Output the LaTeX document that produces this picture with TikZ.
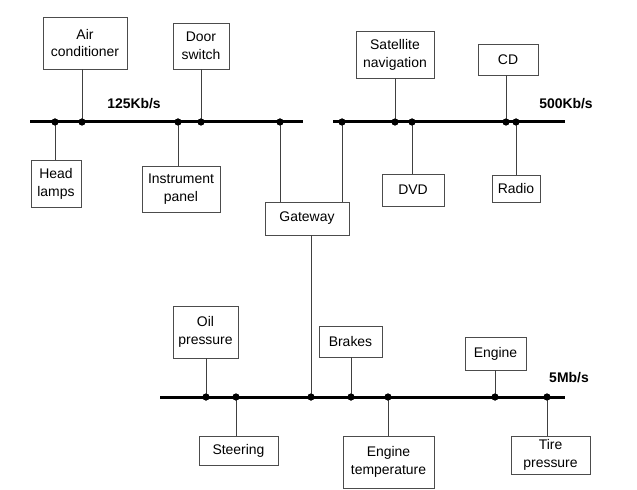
\documentclass[tikz,border=0pt]{standalone}
\usepackage{fontspec}
\setmainfont{Liberation Sans}
\begin{document}
\begin{tikzpicture}[x=1bp,y=-1bp,
  box/.style={draw=black!70, line width=0.8bp, fill=white, inner sep=0pt, align=center,
    font=\fontsize{14}{18}\selectfont},
  bus/.style={line width=3bp, black},
  link/.style={line width=1bp, black!75},
  dot/.style={circle, fill=black, inner sep=0pt, minimum size=7bp},
  rate/.style={font=\bfseries\fontsize{14}{16}\selectfont}]
\useasboundingbox (0,0) rectangle (637,490);
% buses
\coordinate (b1s) at (30,122); \coordinate (b1e) at (303,122);
\coordinate (b2s) at (333,122); \coordinate (b2e) at (565,122);
\coordinate (b3s) at (160,397); \coordinate (b3e) at (565,397);
\draw[bus] (b1s) -- (b1e);
\draw[bus] (b2s) -- (b2e);
\draw[bus] (b3s) -- (b3e);
% labels
\node[rate] (r1) at (134,104) {125Kb/s};
\node[rate] (r2) at (566,104) {500Kb/s};
\node[rate] (r3) at (569,378) {5Mb/s};
% boxes
\node[box, minimum width=84bp, minimum height=52bp] (ac) at (85,43) {Air\\conditioner};
\node[box, minimum width=56bp, minimum height=46bp] (door) at (201,46) {Door\\switch};
\node[box, minimum width=50bp, minimum height=47bp] (head) at (56,183.5) {Head\\lamps};
\node[box, minimum width=78bp, minimum height=46bp] (instr) at (181,189) {Instrument\\panel};
\node[box, minimum width=84bp, minimum height=33bp] (gw) at (307,218.5) {Gateway};
\node[box, minimum width=78bp, minimum height=47bp] (sat) at (395,54.5) {Satellite\\navigation};
\node[box, minimum width=60bp, minimum height=31bp] (cd) at (508,59.5) {CD};
\node[box, minimum width=62bp, minimum height=32bp] (dvd) at (413,190) {DVD};
\node[box, minimum width=48bp, minimum height=27bp] (radio) at (516,188.5) {Radio};
\node[box, minimum width=65bp, minimum height=52bp] (oil) at (205.5,332) {Oil\\pressure};
\node[box, minimum width=63bp, minimum height=31bp] (brakes) at (350.5,341.5) {Brakes};
\node[box, minimum width=61bp, minimum height=33bp] (engine) at (495.5,353.5) {Engine};
\node[box, minimum width=79bp, minimum height=29bp] (steer) at (238.5,450.5) {Steering};
\node[box, minimum width=91bp, minimum height=52bp] (etemp) at (388.5,462) {Engine\\temperature};
\node[box, minimum width=79bp, minimum height=38bp] (tire) at (550.5,455) {Tire\\pressure};
% dots on bus 1
\node[dot] (d11) at (55,122) {};
\node[dot] (d12) at (82,122) {};
\node[dot] (d13) at (178,122) {};
\node[dot] (d14) at (201,122) {};
\node[dot] (d15) at (280,122) {};
% dots on bus 2
\node[dot] (d21) at (342,122) {};
\node[dot] (d22) at (395,122) {};
\node[dot] (d23) at (412,122) {};
\node[dot] (d24) at (506,122) {};
\node[dot] (d25) at (516,122) {};
% dots on bus 3
\node[dot] (d31) at (206,397) {};
\node[dot] (d32) at (236,397) {};
\node[dot] (d33) at (311,397) {};
\node[dot] (d34) at (351,397) {};
\node[dot] (d35) at (388,397) {};
\node[dot] (d36) at (495,397) {};
\node[dot] (d37) at (547,397) {};
% links
\draw[link] (d11.center) -- (d11.center |- head.north);
\draw[link] (d12.center) -- (d12.center |- ac.south);
\draw[link] (d13.center) -- (d13.center |- instr.north);
\draw[link] (d14.center) -- (d14.center |- door.south);
\draw[link] (d15.center) -- (d15.center |- gw.north);
\draw[link] (d21.center) -- (d21.center |- gw.north);
\draw[link] (d22.center) -- (d22.center |- sat.south);
\draw[link] (d23.center) -- (d23.center |- dvd.north);
\draw[link] (d24.center) -- (d24.center |- cd.south);
\draw[link] (d25.center) -- (d25.center |- radio.north);
\draw[link] (d33.center) -- (d33.center |- gw.south);
\draw[link] (d31.center) -- (d31.center |- oil.south);
\draw[link] (d32.center) -- (d32.center |- steer.north);
\draw[link] (d34.center) -- (d34.center |- brakes.south);
\draw[link] (d35.center) -- (d35.center |- etemp.north);
\draw[link] (d36.center) -- (d36.center |- engine.south);
\draw[link] (d37.center) -- (d37.center |- tire.north);
% redraw dots on top
\foreach \d in {d11,d12,d13,d14,d15,d21,d22,d23,d24,d25,d31,d32,d33,d34,d35,d36,d37}
  \fill (\d.center) circle (3.5bp);
\end{tikzpicture}
\end{document}
